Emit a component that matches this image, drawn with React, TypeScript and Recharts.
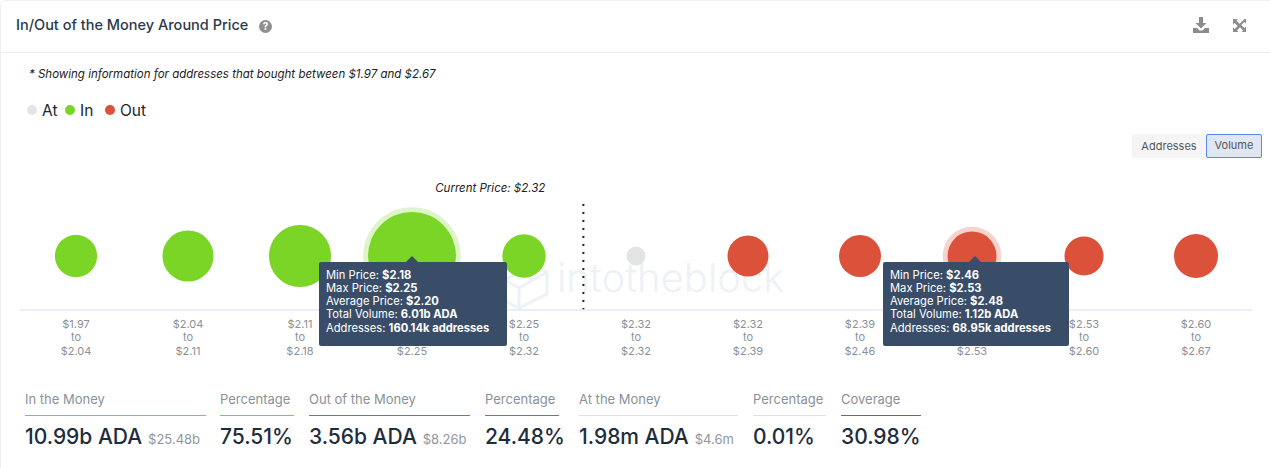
import React from "react";
import { ScatterChart, Scatter, XAxis, YAxis, ZAxis, ReferenceLine, Legend } from "recharts";

const priceFrom = ["$1.97", "$2.04", "$2.11", "$2.18", "$2.25", "$2.32", "$2.32", "$2.39", "$2.46", "$2.53", "$2.60"];
const priceTo = ["$2.04", "$2.11", "$2.18", "$2.25", "$2.32", "$2.32", "$2.39", "$2.46", "$2.53", "$2.60", "$2.67"];

// Volume per cluster, in billions of ADA
const inVolumes = [0.56, 1.32, 2.46, 6.01, 0.64];
const atVolumes = [0.00198];
const outVolumes = [0.46, 0.54, 1.12, 0.32, 0.7];
const highlightedBins = [3, 8];

const tipIn = [["Min Price: ", "$2.18"], ["Max Price: ", "$2.25"], ["Average Price: ", "$2.20"], ["Total Volume: ", "6.01b ADA"], ["Addresses: ", "160.14k addresses"]];
const tipOut = [["Min Price: ", "$2.46"], ["Max Price: ", "$2.53"], ["Average Price: ", "$2.48"], ["Total Volume: ", "1.12b ADA"], ["Addresses: ", "68.95k addresses"]];

const stats = [
  { label: "In the Money", value: "10.99b ADA", sub: "$25.48b", left: 25, width: 181, line: "#7ed321" },
  { label: "Percentage", value: "75.51%", sub: "", left: 220, width: 74, line: "#7ed321" },
  { label: "Out of the Money", value: "3.56b ADA", sub: "$8.26b", left: 309, width: 161, line: "#db513a" },
  { label: "Percentage", value: "24.48%", sub: "", left: 485, width: 74, line: "#db513a" },
  { label: "At the Money", value: "1.98m ADA", sub: "$4.6m", left: 579, width: 159, line: "#dfe1e3" },
  { label: "Percentage", value: "0.01%", sub: "", left: 753, width: 73, line: "#dfe1e3" },
  { label: "Coverage", value: "30.98%", sub: "", left: 841, width: 80, line: "#3f6fd8" },
];

const GREEN = "#7bd526";
const RED = "#db513a";
const GRAY = "#e3e5e5";
const FONT = "Inter, 'Noto Sans', sans-serif";

const inData = inVolumes.map((v, i) => ({ x: i, y: 0.5, v }));
const atData = atVolumes.map((v, i) => ({ x: i + inVolumes.length, y: 0.5, v }));
const outData = outVolumes.map((v, i) => ({ x: i + inVolumes.length + atVolumes.length, y: 0.5, v }));

function Bubble(props: any) {
  const { cx, cy, width, fill, payload } = props;
  const r = width / 2;
  return (
    <g>
      {highlightedBins.includes(payload.x) && <circle cx={cx} cy={cy} r={r + 4.8} fill={fill} fillOpacity={0.25} />}
      <circle cx={cx} cy={cy} r={r} fill={fill} />
    </g>
  );
}

function BinTick(props: any) {
  const { x, payload } = props;
  const i = payload.value;
  const style = { fontFamily: FONT, fontSize: 11, fill: "#8b9096" };
  return (
    <g>
      <text x={x} y={328} textAnchor="middle" style={style}>{priceFrom[i]}</text>
      <text x={x} y={341} textAnchor="middle" style={style}>to</text>
      <text x={x} y={355} textAnchor="middle" style={style}>{priceTo[i]}</text>
    </g>
  );
}

function LegendRow(props: any) {
  const lefts = [27, 65, 105];
  return (
    <div style={{ position: "relative", height: 20, width: 200 }}>
      {(props.payload || []).map((p: any, i: number) => (
        <div key={p.value} style={{ position: "absolute", left: lefts[i], top: 0, display: "flex", alignItems: "center", height: 20 }}>
          <span style={{ width: 10, height: 10, borderRadius: 5, background: p.color, marginRight: 5 }} />
          <span style={{ fontSize: 15.5, color: "#1c2530", fontFamily: FONT }}>{p.value}</span>
        </div>
      ))}
    </div>
  );
}

function Tip({ left, top, width, arrow, rows }: any) {
  return (
    <div style={{ position: "absolute", left, top, width, height: 84, background: "#3a4d68", borderRadius: 2, boxSizing: "border-box", padding: "6.5px 0 0 7px", color: "#fff", fontSize: 11.2, lineHeight: "13.3px", fontFamily: FONT, whiteSpace: "nowrap" }}>
      <div style={{ position: "absolute", left: arrow - left - 6, top: -6, width: 0, height: 0, borderLeft: "6px solid transparent", borderRight: "6px solid transparent", borderBottom: "6px solid #3a4d68" }} />
      {rows.map((r: string[]) => (
        <div key={r[0]}>{r[0]}<b>{r[1]}</b></div>
      ))}
    </div>
  );
}

function CurrentPriceLabel(props: any) {
  const { viewBox } = props;
  return (
    <text x={viewBox.x - 38} y={192} textAnchor="end" style={{ fontFamily: FONT, fontSize: 11.5, fontStyle: "italic", fill: "#222" }}>
      Current Price: $2.32
    </text>
  );
}

export default function App() {
  return (
    <div style={{ position: "absolute", left: 0, top: 0, width: 1270, height: 468, background: "#fff", overflow: "hidden", fontFamily: FONT }}>
      <div style={{ position: "absolute", left: 0, top: 0, width: 1275, height: 480, border: "1px solid #f0f0f0", borderRadius: 6, boxSizing: "border-box" }} />
      <div style={{ position: "absolute", left: 16, top: 16, fontSize: 14.5, fontWeight: 500, color: "#2b3a4a", lineHeight: "18px", whiteSpace: "nowrap" }}>In/Out of the Money Around Price</div>
      <svg style={{ position: "absolute", left: 259, top: 20 }} width="13" height="13" viewBox="0 0 13 13">
        <circle cx="6.5" cy="6.5" r="6.5" fill="#8f8f8f" />
        <text x="6.5" y="10" textAnchor="middle" fontSize="10" fontWeight="700" fill="#fff" fontFamily={FONT}>?</text>
      </svg>
      <svg style={{ position: "absolute", left: 1192, top: 16 }} width="18" height="18" viewBox="0 0 18 18">
        <path d="M7 1h4v6h3.5L9 12.5 3.5 7H7z" fill="#8c8c8c" />
        <path d="M1 12h4l2.5 2.5h3L13 12h4v5H1z" fill="#8c8c8c" />
      </svg>
      <svg style={{ position: "absolute", left: 1232, top: 18 }} width="15" height="15" viewBox="0 0 15 15">
        <path d="M1 1h5L4.4 2.6 7.5 5.7 12.6 0.9 10 1h4v4.5l-1.6-1.6-3.2 3.1 3.2 3.1 1.6-1.6V14h-4.5l1.6-1.6-3.1-3.2-3.1 3.2L6.5 14H1V9.5l1.6 1.6 3.1-3.1-3.1-3.1L1 6.5z" fill="#8c8c8c" />
      </svg>
      <div style={{ position: "absolute", left: 0, top: 52, width: 1270, height: 1, background: "#eeeeee" }} />
      <div style={{ position: "absolute", left: 29, top: 67, fontSize: 11.5, fontStyle: "italic", color: "#222", lineHeight: "14px", whiteSpace: "nowrap" }}>
        * Showing information for addresses that bought between $1.97 and $2.67
      </div>
      <div style={{ position: "absolute", left: 1132, top: 134, width: 74, height: 24, background: "#f5f5f5", fontSize: 11, color: "#555", textAlign: "center", lineHeight: "24px" }}>Addresses</div>
      <div style={{ position: "absolute", left: 1206, top: 134, width: 56, height: 24, background: "#e0e6f3", border: "1.5px solid #5b86ea", borderRadius: 2, boxSizing: "border-box", fontSize: 11, color: "#555", textAlign: "center", lineHeight: "21px" }}>Volume</div>

      {/* Watermark */}
      <svg style={{ position: "absolute", left: 485, top: 250 }} width="310" height="60" viewBox="0 0 310 60">
        <path d="M6 22 34 6 62 22V44L34 58 6 44Z M6 22 34 38 62 22 M34 38V58 M20 14 48 30 M48 14 20 30" fill="none" stroke="#eef1f6" strokeWidth="3" />
        <text x="72" y="42" fontFamily={FONT} fontSize="40" fontWeight="300" fill="#eef1f6">intotheblock</text>
      </svg>

      <div style={{ position: "absolute", left: 0, top: 0 }}>
        <ScatterChart width={1270} height={468} margin={{ top: 182, right: 18, bottom: 98, left: 20 }}>
          <XAxis
            type="number"
            dataKey="x"
            domain={[-0.5, 10.5]}
            ticks={priceFrom.map((_, i) => i)}
            interval={0}
            height={60}
            tickLine={false}
            axisLine={{ stroke: "#e3e8f3", strokeWidth: 1.5 }}
            tick={<BinTick />}
          />
          <YAxis type="number" dataKey="y" domain={[0, 1]} hide />
          <ZAxis zAxisId="flow" type="number" dataKey="v" domain={[0, 6.01]} range={[924, 6082]} />
          <ZAxis zAxisId="at" type="number" dataKey="v" domain={[0, 0.00198]} range={[0, 283]} />
          <ReferenceLine x={4.53} stroke="#222" strokeWidth={2} strokeDasharray="2 6" label={<CurrentPriceLabel />} />
          <Legend verticalAlign="top" content={<LegendRow />} wrapperStyle={{ position: "absolute", left: 0, top: 100, width: 200 }} />
          <Scatter name="In" data={inData} zAxisId="flow" fill={GREEN} shape={<Bubble />} isAnimationActive={false} />
          <Scatter name="At" data={atData} zAxisId="at" fill={GRAY} shape={<Bubble />} isAnimationActive={false} />
          <Scatter name="Out" data={outData} zAxisId="flow" fill={RED} shape={<Bubble />} isAnimationActive={false} />
        </ScatterChart>
      </div>

      <Tip left={319} top={262} width={188} arrow={412} rows={tipIn} />
      <Tip left={883} top={262} width={186} arrow={975} rows={tipOut} />

      {stats.map((s) => (
        <div key={s.left} style={{ position: "absolute", left: s.left, top: 391, width: s.width }}>
          <div style={{ fontSize: 13, color: "#8a9199", lineHeight: "16px", whiteSpace: "nowrap" }}>{s.label}</div>
          <div style={{ height: 1, background: s.line, marginTop: 8 }} />
          <div style={{ marginTop: 8, whiteSpace: "nowrap", fontSize: 21, fontWeight: 500, color: "#1e2d3d", lineHeight: "26px" }}>
            {s.value}
            {s.sub && <span style={{ fontSize: 13, fontWeight: 400, color: "#8f969d", marginLeft: 6 }}>{s.sub}</span>}
          </div>
        </div>
      ))}
    </div>
  );
}
